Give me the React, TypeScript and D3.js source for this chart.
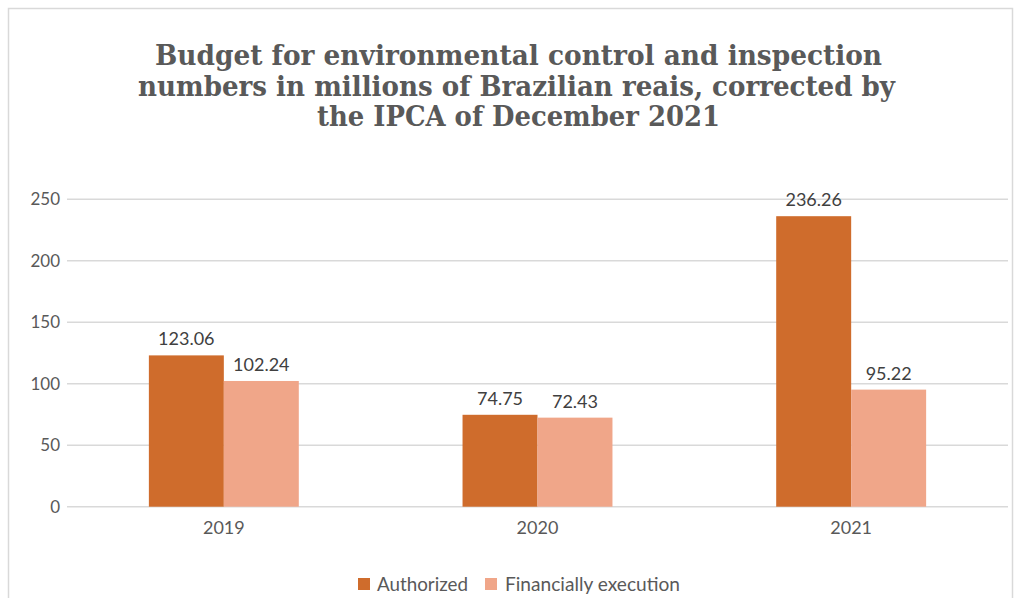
import React from "react";
import * as d3 from "d3";

const categories = ["2019", "2020", "2021"];
const seriesNames = ["Authorized", "Financially execution"];
const authorized = [123.06, 74.75, 236.26];
const financial = [102.24, 72.43, 95.22];
const yTicks = [0, 50, 100, 150, 200, 250];
const titleLines = [
  "Budget for environmental control and inspection",
  "numbers in millions of Brazilian reais, corrected by",
  "the IPCA of December 2021",
];
const colors = ["#cf6c2c", "#f0a689"];

export default function App() {
  const W = 1020, H = 598;
  const left = 67, right = 1008, top = 199.3, bottom = 506.7;
  const x0 = d3.scaleBand<string>().domain(categories).range([left, right]).padding(0);
  const groupW = x0.bandwidth() * 0.478;
  const x1 = d3.scaleBand<string>().domain(seriesNames).range([0, groupW]).padding(0);
  const y = d3.scaleLinear().domain([0, 250]).range([bottom, top]);
  const values = [authorized, financial];
  const font = "Lato, 'Open Sans', sans-serif";
  const txt = "#595959";
  const titleLayout = [
    { cx: 518.5, len: 727 },
    { cx: 516.5, len: 757 },
    { cx: 518.5, len: 403 },
  ];

  return (
    <svg width={W} height={H} style={{ position: "absolute", left: 0, top: 0 }}>
      <rect x={0} y={0} width={W} height={H} fill="#fff" />
      <rect x={8.5} y={8.5} width={1004} height={620} fill="none" stroke="#d9d9d9" strokeWidth={1.5} />
      {titleLines.map((t, i) => (
        <text key={i} x={titleLayout[i].cx} y={65 + i * 30.5} textAnchor="middle" fontFamily="'DejaVu Serif', Georgia, serif"
          fontWeight="bold" fontSize={27.5} fill={txt} textLength={titleLayout[i].len} lengthAdjust="spacingAndGlyphs">{t}</text>
      ))}
      {yTicks.map((t) => (
        <g key={t}>
          <line x1={left} x2={right} y1={y(t)} y2={y(t)} stroke="#d9d9d9" strokeWidth={1.5} />
          <text x={60} y={y(t)} dy="0.35em" textAnchor="end" fontFamily={font} fontSize={17} fill={txt}>{t}</text>
        </g>
      ))}
      {categories.map((c, ci) => {
        const cx = x0(c)! + x0.bandwidth() / 2;
        const gx = cx - groupW / 2;
        return (
          <g key={c}>
            {seriesNames.map((s, si) => {
              const v = values[si][ci];
              const bx = gx + x1(s)!;
              return (
                <g key={s}>
                  <rect x={bx} y={y(v)} width={x1.bandwidth()} height={y(0) - y(v)} fill={colors[si]} />
                  <text x={bx + x1.bandwidth() / 2} y={y(v) - 10} textAnchor="middle" fontFamily={font}
                    fontSize={18} fill="#404040">{v.toFixed(2)}</text>
                </g>
              );
            })}
            <text x={cx} y={534} textAnchor="middle" fontFamily={font} fontSize={18} fill={txt}>{c}</text>
          </g>
        );
      })}
      <g>
        <rect x={358} y={578} width={12} height={12} fill={colors[0]} />
        <text x={377} y={591} fontFamily={font} fontSize={19} fill={txt} textLength={91} lengthAdjust="spacingAndGlyphs">{seriesNames[0]}</text>
        <rect x={485} y={578} width={12} height={12} fill={colors[1]} />
        <text x={505} y={591} fontFamily={font} fontSize={19} fill={txt} textLength={175} lengthAdjust="spacingAndGlyphs">{seriesNames[1]}</text>
      </g>
    </svg>
  );
}
